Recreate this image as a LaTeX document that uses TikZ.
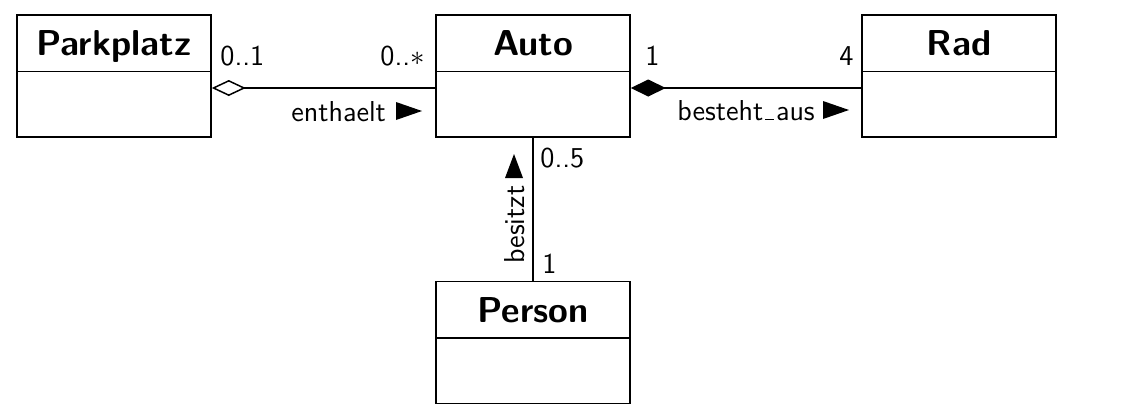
\documentclass[tikz,border=0pt]{standalone}
\usetikzlibrary{arrows.meta}
\newcommand{\lowbar}{\kern0.06em\rule[-0.2pt]{0.32em}{0.5pt}\kern0.06em}
\begin{document}
\begin{tikzpicture}[x=0.5pt,y=-0.5pt,
  cls/.style={draw, line width=0.75pt, minimum width=97pt, minimum height=61pt, inner sep=0pt},
  head/.style={font=\sffamily\bfseries\fontsize{18}{22}\selectfont, inner sep=0pt},
  lbl/.style={font=\sffamily\fontsize{14.4}{17}\selectfont, inner sep=0pt},
  conn/.style={line width=0.75pt},
  tri/.style={fill=black, draw=none}]
\useasboundingbox (0,0) rectangle (1126,418);
% classes
\node[cls] (park) at (114,76) {};
\node[cls] (auto) at (533,76) {};
\node[cls] (rad) at (959,76) {};
\node[cls] (person) at (533,342.5) {};
\foreach \n in {park,auto,rad,person}{
  \draw[line width=0.75pt] ([yshift=-28.5pt]\n.north west) -- ([yshift=-28.5pt]\n.north east);
}
\node[head, anchor=base] (parkh) at (114,55) {Parkplatz};
\node[head, anchor=base] (autoh) at (533,55) {Auto};
\node[head, anchor=base] (radh) at (959,55) {Rad};
\node[head, anchor=base] (personh) at (533,322) {Person};
% connectors
\draw[conn, {Diamond[open,length=17pt,width=8pt,line width=0.75pt]}-] ([yshift=-6pt]park.east) -- ([yshift=-6pt]auto.west);
\draw[conn, {Diamond[length=17.5pt,width=8.5pt]}-] ([yshift=-6pt]auto.east) -- ([yshift=-6pt]rad.west);
\draw[conn] (auto.south) -- (person.north);
% labels
\node[lbl, anchor=base west] (m1) at (220,65) {0..1};
\node[lbl, anchor=base east] (m2) at (425,65) {0..$*$};
\node[lbl, anchor=base west] (enth) at (291,121) {enthaelt};
\fill[tri] (396,102) -- (422,111) -- (396,120) -- cycle;
\node[lbl, anchor=base west] (m3) at (645,65) {1};
\node[lbl, anchor=base east] (m4) at (854,65) {4};
\node[lbl, anchor=base west] (best) at (677,120) {besteht\lowbar aus};
\fill[tri] (823,101) -- (849,110) -- (823,119) -- cycle;
\node[lbl, anchor=base west] (m5) at (540,167) {0..5};
\node[lbl, anchor=base west] (m6) at (542,273) {1};
\node[lbl, anchor=base west, rotate=90] (bes) at (524,264) {besitzt};
\fill[tri] (505,178) -- (514,154) -- (523,178) -- cycle;
\end{tikzpicture}
\end{document}
